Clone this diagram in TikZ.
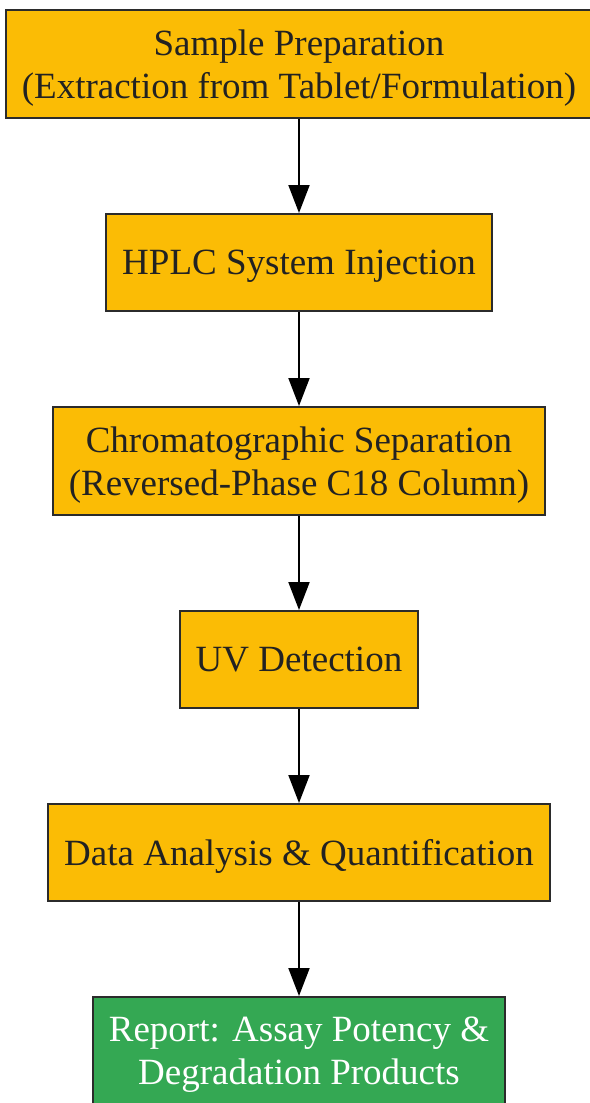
\documentclass[tikz,border=0pt]{standalone}
\usepackage{fontspec}
\setmainfont{Liberation Serif}
\usepackage{xcolor}
\usetikzlibrary{positioning,arrows.meta}
\definecolor{stepfill}{HTML}{FBBC05}
\definecolor{reportfill}{HTML}{34A853}
\definecolor{boxline}{HTML}{2B2B2B}
\definecolor{textdark}{HTML}{222222}

\begin{document}
\begin{tikzpicture}[x=1pt,y=1pt,
        box/.style={draw=boxline,line width=2pt,fill=stepfill,text=textdark,
            align=center,minimum height=97pt,inner xsep=16pt,inner ysep=11pt,
            text depth=0pt,font=\fontsize{37}{43}\selectfont},
        twoline/.style={minimum height=108pt},
        flow/.style={line width=2pt,-{Triangle[length=28pt,width=21pt]}},
        node distance=94pt]
        \useasboundingbox (0,0) rectangle (589,-1103);

        \node[box,twoline] (prep) at (299,-64) {Sample Preparation\\(Extraction from Tablet/Formulation)};
        \node[box,below=of prep] (inject) {HPLC System Injection};
        \node[box,twoline,below=of inject] (sep) {Chromatographic Separation\\(Reversed-Phase C18 Column)};
        \node[box,below=of sep] (uv) {UV Detection};
        \node[box,below=of uv] (data) {Data Analysis \& Quantification};
        \node[box,twoline,below=of data,fill=reportfill,text=white] (report) {Report: Assay Potency \&\\Degradation Products};

        \draw[flow] (prep)--(inject);
        \draw[flow] (inject)--(sep);
        \draw[flow] (sep)--(uv);
        \draw[flow] (uv)--(data);
        \draw[flow] (data)--(report);
    \end{tikzpicture}
\end{document}
